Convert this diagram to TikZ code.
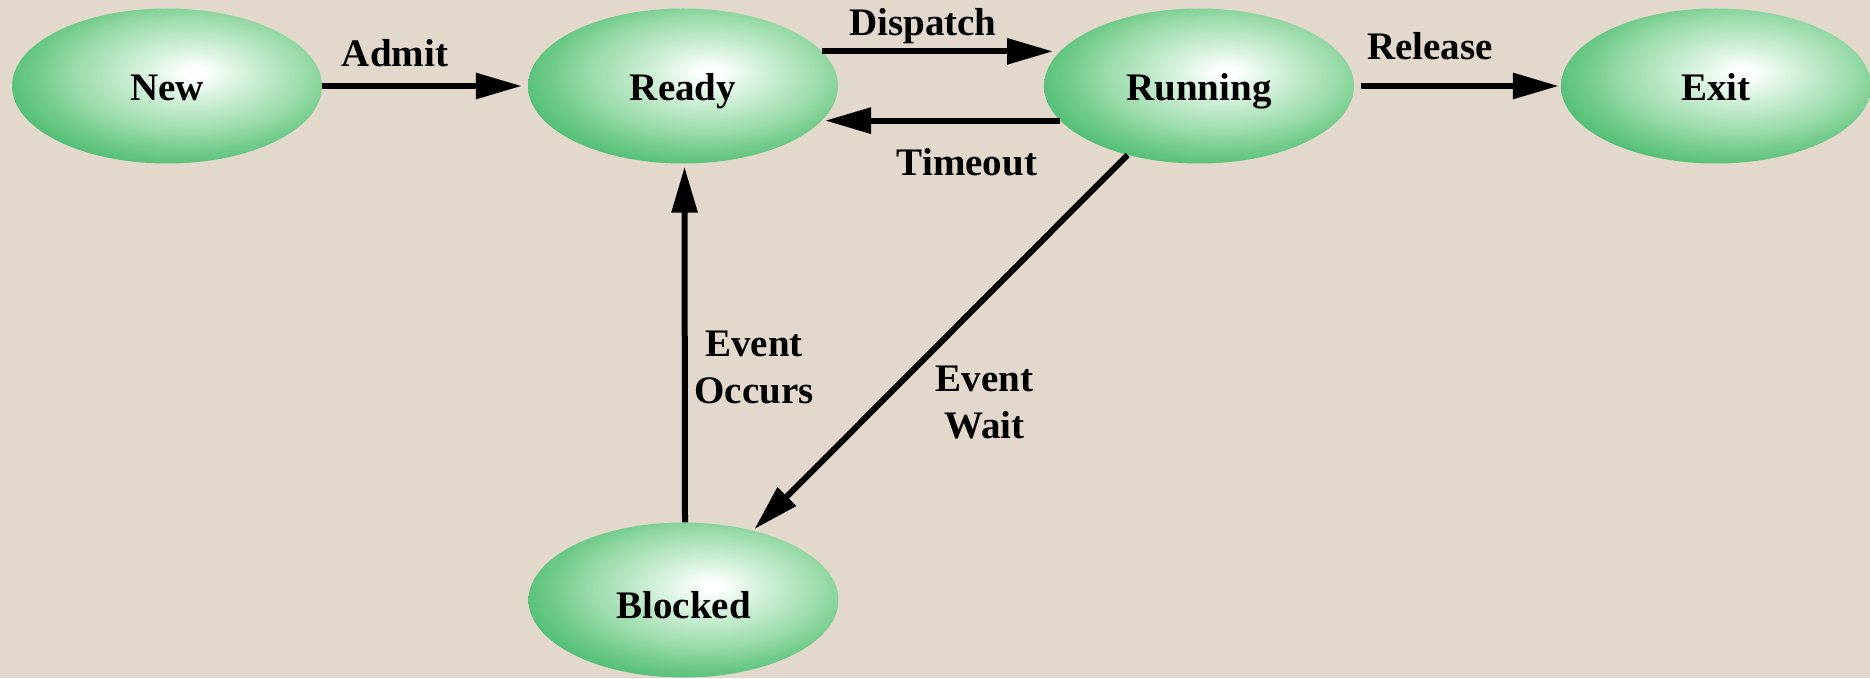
\documentclass[tikz,border=0pt]{standalone}
\usepackage{fontspec}
\setmainfont{Liberation Serif}
\usetikzlibrary{shapes.geometric,arrows.meta,calc}
\definecolor{bgbeige}{RGB}{226,216,203}
\definecolor{gedge}{RGB}{86,192,120}
\definecolor{gA}{RGB}{220,244,226}
\definecolor{gB}{RGB}{185,231,196}
\definecolor{gC}{RGB}{152,218,168}
\definecolor{gD}{RGB}{116,204,140}
\pgfdeclareradialshading{greenball}{\pgfpoint{4.5bp}{4.5bp}}{%
  color(0bp)=(white); color(1.5bp)=(white); color(7bp)=(gA);
  color(13bp)=(gB); color(19bp)=(gC); color(24bp)=(gD);
  color(29bp)=(gedge); color(100bp)=(gedge)}
\begin{document}
\begin{tikzpicture}[x=1pt,y=1pt,
  state/.style={ellipse, minimum width=310pt, minimum height=155pt, inner sep=0pt,
    shading=greenball, text height=30pt, text depth=0pt,
    font=\fontsize{39}{47}\selectfont\bfseries},
  lbl/.style={anchor=base, inner sep=0pt, align=center,
    font=\fontsize{39}{47}\selectfont\bfseries},
  arr/.style={line width=6pt, -{Triangle[length=46pt,width=25pt]}}]
\useasboundingbox (0,0) rectangle (1870,678);
\fill[bgbeige] (0,0) rectangle (1870,678);
\node[state] (new) at (167,592) {New};
\node[state] (ready) at (683,592) {Ready};
\node[state] (running) at (1199,592) {Running};
\node[state] (exit) at (1716,592) {Exit};
\node[state, text height=36pt] (blocked) at (683.5,78) {Blocked};
\draw[arr] (new.east) -- ([xshift=-6pt]ready.west);
\draw[arr] (ready.14) -- ([xshift=-146pt]ready.14 -| running.center);
\draw[arr] (running.194) -- ([xshift=142pt]running.194 -| ready.center);
\draw[arr] ([xshift=7pt]running.east) -- ([xshift=-2pt]exit.west);
\draw[arr, shorten >=2pt] (running.224) -- (blocked.45);
\draw[arr, shorten >=3pt] ([xshift=1.5pt]blocked.north) -- ([xshift=1.5pt]ready.south);
\node[lbl] (ladmit) at (395,611) {Admit};
\node[lbl] (ldispatch) at (923,642) {Dispatch};
\node[lbl] (ltimeout) at (967,502) {Timeout};
\node[lbl] (lrelease) at (1430,618) {Release};
\node[lbl] (loccurs) at (754,275) {Event\\Occurs};
\node[lbl] (lwait) at (984.5,240) {Event\\Wait};
\end{tikzpicture}
\end{document}
